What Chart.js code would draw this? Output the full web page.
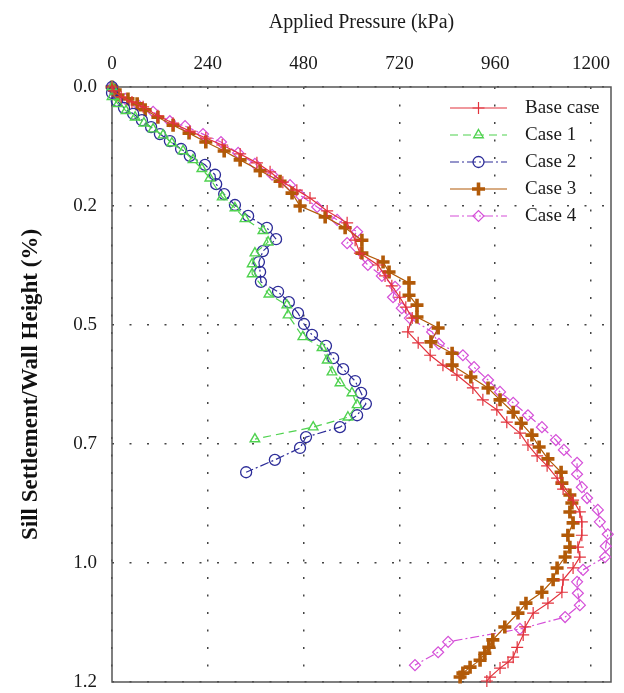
<!DOCTYPE html>
<html><head><meta charset="utf-8">
<script src="https://cdn.jsdelivr.net/npm/chart.js@4.4.1/dist/chart.umd.min.js"></script>
<style>html,body{margin:0;padding:0;background:#fff;}canvas{display:block;}</style>
</head><body>
<canvas id="c" width="624" height="693"></canvas>
<script>
// ---- axis ticks ----
const pressureTicks = [0, 240, 480, 720, 960, 1200];
const settlementTicks = [0, 0.24, 0.48, 0.72, 0.96, 1.2];
const settlementTickLabels = ['0.0', '0.2', '0.5', '0.7', '1.0', '1.2'];
const seriesNames = ['Base case', 'Case 1', 'Case 2', 'Case 3', 'Case 4'];

// ---- series: applied pressure (kPa) and settlement (%) ----
const baseP = [0,5,23,50,78,115,153,195,235,276,321,363,396,428,463,496,539,589,609,621,666,684,701,721,736,752,741,767,797,829,864,904,929,964,989,1022,1042,1065,1090,1115,1130,1155,1172,1177,1177,1167,1172,1155,1130,1127,1092,1055,1035,1030,1015,1005,992,972,947,939];
const baseS = [0,0.008,0.020,0.030,0.040,0.058,0.073,0.089,0.103,0.117,0.135,0.153,0.171,0.192,0.208,0.224,0.250,0.274,0.309,0.335,0.359,0.381,0.401,0.424,0.444,0.466,0.494,0.516,0.541,0.561,0.581,0.607,0.631,0.651,0.676,0.698,0.722,0.744,0.764,0.789,0.811,0.833,0.857,0.877,0.904,0.928,0.948,0.970,0.994,1.019,1.041,1.061,1.089,1.105,1.130,1.150,1.160,1.172,1.190,1.198];

const case1P = [0,0,15,35,58,80,103,128,150,178,203,225,245,276,308,333,378,391,358,351,351,393,438,441,478,526,539,551,571,601,614,591,504,358];
const case1S = [0,0.020,0.034,0.048,0.061,0.073,0.085,0.097,0.113,0.129,0.147,0.165,0.184,0.222,0.244,0.266,0.290,0.313,0.335,0.357,0.377,0.418,0.440,0.460,0.504,0.526,0.551,0.575,0.597,0.617,0.641,0.666,0.686,0.710];

const case2P = [0,0,12,30,53,75,98,120,145,173,195,233,258,261,281,308,341,388,411,378,368,371,373,416,443,466,481,501,536,554,579,609,624,636,614,571,486,471,408,336];
const case2S = [0,0.012,0.028,0.042,0.054,0.067,0.081,0.095,0.109,0.125,0.139,0.157,0.177,0.196,0.216,0.238,0.260,0.284,0.307,0.331,0.353,0.373,0.393,0.413,0.434,0.456,0.478,0.500,0.522,0.547,0.569,0.593,0.617,0.639,0.662,0.686,0.706,0.728,0.752,0.777];

const case3P = [0,8,15,40,63,83,115,153,193,235,281,321,371,421,451,471,534,584,626,626,679,694,744,744,764,764,817,799,852,852,899,942,972,1005,1025,1052,1070,1092,1125,1127,1147,1152,1147,1155,1142,1147,1135,1115,1105,1077,1037,1017,984,954,944,934,922,897,879,872];
const case3S = [0,0.006,0.016,0.024,0.034,0.046,0.061,0.077,0.093,0.111,0.129,0.147,0.169,0.190,0.214,0.240,0.262,0.284,0.309,0.335,0.353,0.373,0.395,0.420,0.440,0.464,0.486,0.514,0.537,0.561,0.585,0.607,0.631,0.656,0.678,0.702,0.726,0.750,0.777,0.799,0.823,0.839,0.857,0.879,0.904,0.928,0.948,0.970,0.994,1.019,1.041,1.061,1.089,1.115,1.130,1.142,1.156,1.170,1.182,1.190];

const case4P = [0,8,33,65,103,145,183,228,273,316,358,401,446,471,514,564,614,589,641,676,709,704,726,746,802,819,879,907,942,972,1005,1042,1077,1112,1132,1165,1165,1177,1190,1217,1222,1242,1237,1235,1180,1165,1167,1172,1135,1022,842,817,759];
const case4S = [0,0.014,0.024,0.036,0.050,0.069,0.079,0.095,0.111,0.133,0.155,0.177,0.198,0.218,0.242,0.268,0.292,0.315,0.359,0.381,0.403,0.424,0.446,0.466,0.494,0.518,0.541,0.565,0.591,0.615,0.637,0.662,0.686,0.712,0.732,0.758,0.781,0.807,0.829,0.853,0.877,0.902,0.926,0.948,0.974,0.998,1.021,1.045,1.069,1.093,1.119,1.140,1.166];

const SERIF = '"Liberation Serif", "Times New Roman", serif';
const pts = (p, s) => p.map((v, i) => ({x: v, y: s[i]}));

const seriesData = [[baseP, baseS], [case1P, case1S], [case2P, case2S], [case3P, case3S], [case4P, case4S]];
const looks = [
  {color: '#e2323c', dash: [], point: 'cross', r: 6, pw: 1.2},
  {color: '#4fd24f', dash: [8, 5], point: 'triangle', r: 5.5, pw: 1.4},
  {color: '#2c2c98', dash: [9, 3, 2, 3], point: 'circle', r: 5.5, pw: 1.3},
  {color: '#b25a08', dash: [], point: 'cross', r: 6.5, pw: 3.6},
  {color: '#d54fd8', dash: [9, 3, 2, 3], point: 'rectRot', r: 5.5, pw: 1.2}
];

const datasets = seriesData.map((d, i) => ({
  label: seriesNames[i],
  data: pts(d[0], d[1]),
  showLine: true,
  borderColor: looks[i].color,
  borderWidth: 1.2,
  borderDash: looks[i].dash,
  pointStyle: looks[i].point,
  pointRadius: looks[i].r,
  pointBorderWidth: looks[i].pw,
  pointBorderColor: looks[i].color,
  pointBackgroundColor: 'rgba(0,0,0,0)',
  tension: 0,
  clip: false
}));

const framePlugin = {
  id: 'frame',
  beforeDatasetsDraw(chart) {
    const {ctx, chartArea: a} = chart;
    ctx.save();
    ctx.strokeStyle = '#555';
    ctx.lineWidth = 1.5;
    ctx.strokeRect(a.left, a.top, a.right - a.left, a.bottom - a.top);
    ctx.restore();
  }
};

const insideLegend = {
  id: 'insideLegend',
  afterDraw(chart) {
    const {ctx, chartArea: a} = chart;
    const x0 = a.right - 161, x1 = a.right - 104, xt = a.right - 86;
    chart.data.datasets.forEach((ds, i) => {
      const y = a.top + 21 + i * 27;
      ctx.save();
      ctx.strokeStyle = ds.borderColor;
      ctx.lineWidth = ds.borderWidth;
      ctx.setLineDash(ds.borderDash || []);
      ctx.beginPath(); ctx.moveTo(x0, y); ctx.lineTo(x1, y); ctx.stroke();
      ctx.setLineDash([]);
      ctx.strokeStyle = ds.pointBorderColor;
      ctx.fillStyle = ds.pointBackgroundColor;
      ctx.lineWidth = ds.pointBorderWidth;
      Chart.helpers.drawPoint(ctx, {pointStyle: ds.pointStyle, radius: ds.pointRadius, rotation: 0, borderWidth: ds.pointBorderWidth}, (x0 + x1) / 2, y);
      ctx.fillStyle = '#1a1a1a';
      ctx.font = '19px ' + SERIF;
      ctx.textBaseline = 'middle';
      ctx.textAlign = 'left';
      ctx.fillText(ds.label, xt, y);
      ctx.restore();
    });
  }
};

new Chart(document.getElementById('c'), {
  type: 'scatter',
  data: {datasets},
  options: {
    responsive: false,
    animation: false,
    events: [],
    layout: {padding: {left: 0, top: 0, right: 13, bottom: 11}},
    plugins: {legend: {display: false}, tooltip: {enabled: false}},
    scales: {
      x: {
        type: 'linear', position: 'top', min: 0, max: 1250,
        afterBuildTicks: s => { s.ticks = pressureTicks.map(v => ({value: v})); },
        afterFit: s => { s.height = 87; s.paddingLeft = 0; s.paddingRight = 0; },
        grid: {color: '#444', lineWidth: 1.5, drawTicks: false},
        border: {display: false, dash: [2, 15.5]},
        ticks: {padding: 12, color: '#1a1a1a', font: {family: SERIF, size: 19}, callback: v => String(v), maxRotation: 0},
        title: {display: true, text: 'Applied Pressure (kPa)', color: '#1a1a1a', font: {family: SERIF, size: 20}, padding: {top: 11, bottom: 0}}
      },
      y: {
        type: 'linear', position: 'left', reverse: true, min: 0, max: 1.2,
        afterBuildTicks: s => { s.ticks = settlementTicks.map(v => ({value: v})); },
        afterFit: s => { s.width = 112; s.paddingTop = 0; s.paddingBottom = 0; },
        grid: {color: '#444', lineWidth: 1.5, drawTicks: false},
        border: {display: false, dash: [2, 15.5]},
        ticks: {padding: 15, color: '#1a1a1a', font: {family: SERIF, size: 19}, callback: (v, i) => settlementTickLabels[i]},
        title: {display: true, text: 'Sill Settlement/Wall Height (%)', color: '#111', font: {family: SERIF, size: 23, weight: 'bold'}, padding: {top: 17, bottom: 0}}
      }
    }
  },
  plugins: [framePlugin, insideLegend]
});
</script>
</body></html>
